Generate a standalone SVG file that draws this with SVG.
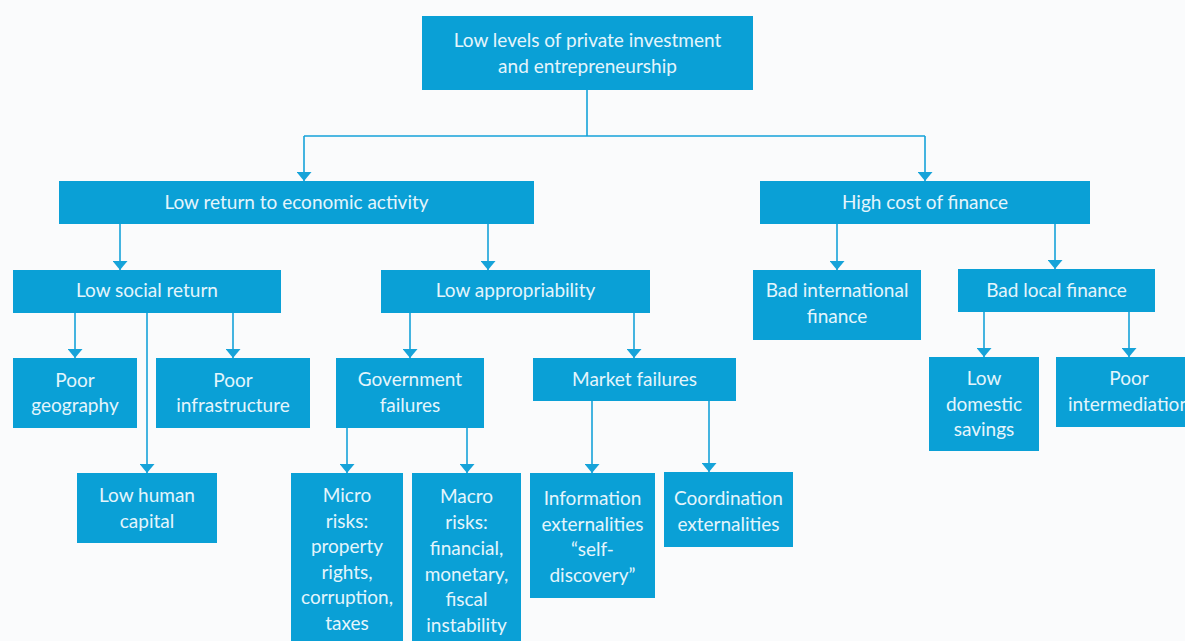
<svg xmlns="http://www.w3.org/2000/svg" width="1185" height="641" viewBox="0 0 1185 641">
<defs>
<style>
.box{fill:#0aa0d6}
.t{font-family:Lato,"Open Sans","Liberation Sans",sans-serif;font-size:19px;fill:#e4f5fc;text-anchor:middle}
.c{stroke:#16a3d9;stroke-width:1.6;fill:none}
</style>
<marker id="ah" markerUnits="userSpaceOnUse" markerWidth="9" markerHeight="15" viewBox="0 0 9 15" refX="9" refY="7.5" orient="auto">
<path d="M0,0 L9,7.5 L0,15 Z" fill="#16a3d9"/>
</marker>
</defs>
<rect width="1185" height="641" fill="#fafbfc"/>
<g id="connectors">
<path class="c" d="M587,90 V136 M304,136 H925"/>
<path class="c" d="M304,136 V181" marker-end="url(#ah)"/>
<path class="c" d="M925,136 V181" marker-end="url(#ah)"/>
<path class="c" d="M120,224 V270" marker-end="url(#ah)"/>
<path class="c" d="M488,224 V270" marker-end="url(#ah)"/>
<path class="c" d="M837,224 V270" marker-end="url(#ah)"/>
<path class="c" d="M1055,224 V269" marker-end="url(#ah)"/>
<path class="c" d="M75,313 V358" marker-end="url(#ah)"/>
<path class="c" d="M147,313 V473" marker-end="url(#ah)"/>
<path class="c" d="M233,313 V358" marker-end="url(#ah)"/>
<path class="c" d="M410,313 V358" marker-end="url(#ah)"/>
<path class="c" d="M634,313 V358" marker-end="url(#ah)"/>
<path class="c" d="M347,428 V473" marker-end="url(#ah)"/>
<path class="c" d="M467,428 V473" marker-end="url(#ah)"/>
<path class="c" d="M592,401 V473" marker-end="url(#ah)"/>
<path class="c" d="M709,401 V472" marker-end="url(#ah)"/>
<path class="c" d="M984,312 V357" marker-end="url(#ah)"/>
<path class="c" d="M1129,312 V357" marker-end="url(#ah)"/>
</g>
<g id="n-top"><rect class="box" x="422" y="16" width="331" height="74"/><text class="t" x="587.5" y="47">Low levels of private investment</text><text class="t" x="587.5" y="73">and entrepreneurship</text></g>
<g id="n-lowreturn"><rect class="box" x="59" y="181" width="475" height="43"/><text class="t" x="296.5" y="209">Low return to economic activity</text></g>
<g id="n-highcost"><rect class="box" x="760" y="181" width="330" height="43"/><text class="t" x="925" y="209">High cost of finance</text></g>
<g id="n-lowsocial"><rect class="box" x="13" y="270" width="268" height="43"/><text class="t" x="147" y="297">Low social return</text></g>
<g id="n-lowapprop"><rect class="box" x="381" y="270" width="269" height="43"/><text class="t" x="515.5" y="297">Low appropriability</text></g>
<g id="n-badintl"><rect class="box" x="753" y="270" width="168" height="70"/><text class="t" x="837" y="297">Bad international</text><text class="t" x="837" y="323">finance</text></g>
<g id="n-badlocal"><rect class="box" x="958" y="269" width="197" height="43"/><text class="t" x="1056.5" y="297">Bad local finance</text></g>
<g id="n-poorgeo"><rect class="box" x="13" y="358" width="124" height="70"/><text class="t" x="75" y="387">Poor</text><text class="t" x="75" y="412">geography</text></g>
<g id="n-poorinfra"><rect class="box" x="156" y="358" width="154" height="70"/><text class="t" x="233" y="387">Poor</text><text class="t" x="233" y="412">infrastructure</text></g>
<g id="n-lowhuman"><rect class="box" x="77" y="473" width="140" height="70"/><text class="t" x="147" y="502">Low human</text><text class="t" x="147" y="528">capital</text></g>
<g id="n-gov"><rect class="box" x="336" y="358" width="148" height="70"/><text class="t" x="410" y="386">Government</text><text class="t" x="410" y="412">failures</text></g>
<g id="n-market"><rect class="box" x="533" y="358" width="203" height="43"/><text class="t" x="634.5" y="386">Market failures</text></g>
<g id="n-micro"><rect class="box" x="291" y="473" width="112" height="172"/><text class="t" x="347" y="502">Micro</text><text class="t" x="347" y="527.5">risks:</text><text class="t" x="347" y="553">property</text><text class="t" x="347" y="578.5">rights,</text><text class="t" x="347" y="604">corruption,</text><text class="t" x="347" y="629.5">taxes</text></g>
<g id="n-macro"><rect class="box" x="412" y="473" width="109" height="172"/><text class="t" x="466.5" y="503">Macro</text><text class="t" x="466.5" y="529">risks:</text><text class="t" x="466.5" y="555">financial,</text><text class="t" x="466.5" y="580.5">monetary,</text><text class="t" x="466.5" y="606">fiscal</text><text class="t" x="466.5" y="632">instability</text></g>
<g id="n-info"><rect class="box" x="530" y="473" width="125" height="125"/><text class="t" x="592.5" y="505">Information</text><text class="t" x="592.5" y="530.5">externalities</text><text class="t" x="592.5" y="556">“self-</text><text class="t" x="592.5" y="581.5">discovery”</text></g>
<g id="n-coord"><rect class="box" x="664" y="472" width="129" height="75"/><text class="t" x="728.5" y="505">Coordination</text><text class="t" x="728.5" y="530.5">externalities</text></g>
<g id="n-lowdom"><rect class="box" x="929" y="357" width="110" height="94"/><text class="t" x="984" y="385">Low</text><text class="t" x="984" y="410.5">domestic</text><text class="t" x="984" y="436">savings</text></g>
<g id="n-poorinter"><rect class="box" x="1056" y="357" width="146" height="70"/><text class="t" x="1129" y="385">Poor</text><text class="t" x="1129" y="410.5">intermediation</text></g>
</svg>
